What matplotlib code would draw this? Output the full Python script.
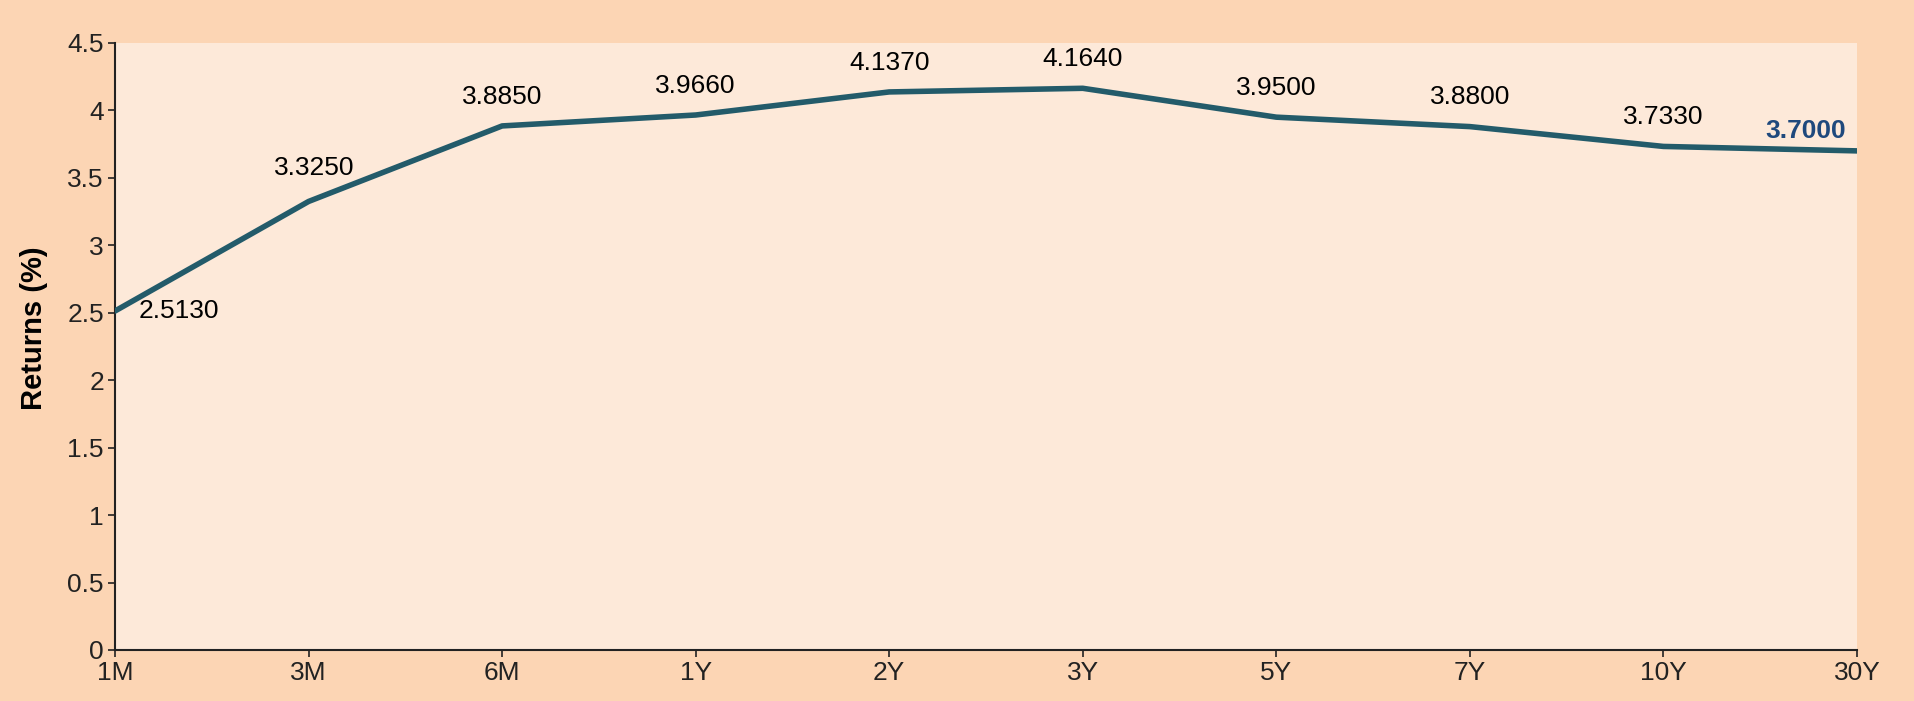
import matplotlib
matplotlib.use("Agg")
import matplotlib.pyplot as plt

# yield curve data
tenors = ["1M", "3M", "6M", "1Y", "2Y", "3Y", "5Y", "7Y", "10Y", "30Y"]
returns = [2.513, 3.325, 3.885, 3.966, 4.137, 4.164, 3.950, 3.880, 3.733, 3.700]

plt.rcParams['font.family'] = ['Liberation Sans', 'DejaVu Sans']

fig = plt.figure(figsize=(19.14, 7.01), dpi=100, facecolor="#FCD5B4")
ax = fig.add_axes([0.0601, 0.0728, 0.9101, 0.8659])
ax.set_facecolor("#FDE9D9")

x = list(range(len(tenors)))
ax.plot(x, returns, color="#235B6A", linewidth=4.0, solid_capstyle="round", solid_joinstyle="round", zorder=3)

# data labels
fs = 19
for i, v in enumerate(returns):
    if i == 0:
        ax.annotate("%.4f" % v, (i, v), xytext=(17, 0), textcoords="offset points",
                    ha="left", va="center", fontsize=fs, color="black")
    elif i == len(returns) - 1:
        ax.annotate("%.4f" % v, (i, v), xytext=(-37, 14), textcoords="offset points",
                    ha="center", va="center", fontsize=fs, color="#1F497D", fontweight="bold")
    elif i == 1:
        ax.annotate("%.4f" % v, (i, v), xytext=(4, 24), textcoords="offset points",
                    ha="center", va="center", fontsize=fs, color="black")
    else:
        ax.annotate("%.4f" % v, (i, v), xytext=(0, 21), textcoords="offset points",
                    ha="center", va="center", fontsize=fs, color="black")

ax.set_xlim(0, len(tenors) - 1)
ax.set_ylim(0, 4.5)
ax.set_xticks(x)
ax.set_xticklabels(tenors)
ax.set_yticks([0, 0.5, 1, 1.5, 2, 2.5, 3, 3.5, 4, 4.5])
ax.set_yticklabels(["0", "0.5", "1", "1.5", "2", "2.5", "3", "3.5", "4", "4.5"])
ax.tick_params(axis="both", labelsize=fs, length=5, width=1.2, direction="out", colors="#222222")
ax.tick_params(axis="x", pad=3)
ax.tick_params(axis="y", pad=3)

for s in ["top", "right"]:
    ax.spines[s].set_visible(False)
for s in ["left", "bottom"]:
    ax.spines[s].set_linewidth(1.5)
    ax.spines[s].set_color("#222222")

ax.set_ylabel("Returns (%)", fontsize=21, fontweight="bold")
ax.yaxis.set_label_coords(-0.0385, 0.53)

fig.savefig("out.png", dpi=100, facecolor=fig.get_facecolor())
